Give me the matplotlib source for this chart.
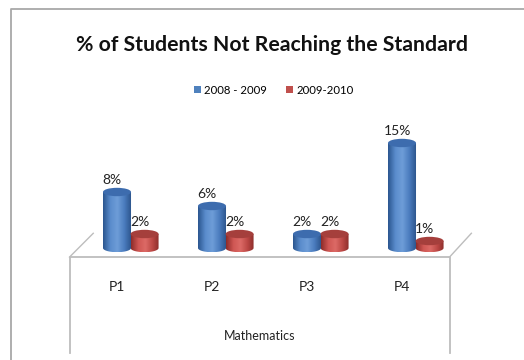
import numpy as np
import matplotlib
matplotlib.use("Agg")
import matplotlib.pyplot as plt
from matplotlib.path import Path
from matplotlib.patches import PathPatch, Ellipse, Patch
from matplotlib.colors import LinearSegmentedColormap

plt.rcParams["font.family"] = ["Lato", "DejaVu Sans"]

categories = ["P1", "P2", "P3", "P4"]
series_names = ["2008 - 2009", "2009-2010"]
vals_0809 = [8, 6, 2, 15]
vals_0910 = [2, 2, 2, 1]
value_labels_0809 = ["8%", "6%", "2%", "15%"]
value_labels_0910 = ["2%", "2%", "2%", "1%"]
x_title = "Mathematics"
title = "% of Students Not Reaching the Standard"

BLUE_SHADES = ["#2b5690", "#5a8ccc", "#6e9dd8", "#4a7bbd", "#2a5289"]
RED_SHADES = ["#8e2c2a", "#cf5653", "#dc6a66", "#bb4744", "#872a28"]
BLUE_TOP = "#3d6cae"
RED_TOP = "#a53f3c"
GRID_GRAY = "#bdbdbd"

BAR_W = 0.295      # cylinder width (category units)
RY = 0.6           # half height of the elliptical caps (value units)
OFFSETS = [0.0, 0.29]


def cylinder(ax, xc, h, shades, top_color):
    x0, x1 = xc - BAR_W / 2, xc + BAR_W / 2
    rx = BAR_W / 2
    t = np.linspace(0, np.pi, 40)
    arc_x = xc + rx * np.cos(t)
    arc_y = -RY * np.sin(t)
    verts = [(x0, 0), (x0, h), (x1, h)] + list(zip(arc_x, arc_y)) + [(x0, 0)]
    codes = [Path.MOVETO] + [Path.LINETO] * (len(verts) - 2) + [Path.CLOSEPOLY]
    body = PathPatch(Path(verts, codes), facecolor="none", edgecolor="none")
    ax.add_patch(body)
    cmap = LinearSegmentedColormap.from_list("cyl", shades)
    grad = np.linspace(0, 1, 64).reshape(1, -1)
    im = ax.imshow(grad, cmap=cmap, extent=(x0, x1, -RY, h), aspect="auto",
                   origin="lower", zorder=3, interpolation="bilinear")
    im.set_clip_path(body)
    ax.add_patch(Ellipse((xc, h), BAR_W, 2 * RY, facecolor=top_color,
                         edgecolor="none", zorder=4))


fig = plt.figure(figsize=(5.24, 3.6), dpi=100)
ax = fig.add_axes([0, 0, 1, 1])
ax.set_axis_off()

# axis limits chosen so one category step ~95 px and 1% ~7 px
xlim = (-117 / 95, (524 - 117) / 95)
ylim = ((248 - 360) / 7, 248 / 7)

# chart frame
ax.plot([-106 / 95, -106 / 95, xlim[1]], [ylim[0], 239 / 7, 239 / 7],
        color="#a8a8a8", lw=1.3, zorder=1, clip_on=False)

# 3-D floor
y_front, y_back = -1.3, 2.1
y_bot = (248 - 353) / 7
ax.plot([-0.5, -0.5, 3.5, 3.5], [y_bot, y_front, y_front, y_bot], color=GRID_GRAY, lw=1.3, zorder=1)
ax.plot([-0.5, -0.25], [y_front, y_back], color=GRID_GRAY, lw=1.0, zorder=1)
ax.plot([3.5, 3.73], [y_front, y_back], color=GRID_GRAY, lw=1.0, zorder=1)

for i in range(len(categories)):
    cylinder(ax, i + OFFSETS[0], vals_0809[i], BLUE_SHADES, BLUE_TOP)
    cylinder(ax, i + OFFSETS[1], vals_0910[i], RED_SHADES, RED_TOP)
    ax.annotate(value_labels_0809[i], (i + OFFSETS[0], vals_0809[i] + RY),
                xytext=(-3.5, 1.5), textcoords="offset points",
                ha="center", va="bottom", fontsize=10, color="#222222", zorder=5)
    ax.annotate(value_labels_0910[i], (i + OFFSETS[1], vals_0910[i] + RY),
                xytext=(-3.5, 1.5), textcoords="offset points",
                ha="center", va="bottom", fontsize=10, color="#222222", zorder=5)
    ax.text(i, -5.57, categories[i], ha="center", va="center", fontsize=10, color="#222222")

ax.text(1.5, -12.57, x_title, ha="center", va="center", fontsize=9, color="#222222")

ax.set_xlim(*xlim)
ax.set_ylim(*ylim)

fig.text(272 / 524, 1 - 45 / 360, title, ha="center", va="center",
         fontsize=15.3, fontweight="bold", color="#111111")

handles = [Patch(facecolor="#4f81bd"), Patch(facecolor="#c0504d")]
fig.legend(handles, series_names, loc="center", bbox_to_anchor=(274 / 524, 1 - 90 / 360),
           ncol=2, frameon=False, fontsize=8.2, handlelength=0.6, handleheight=0.6,
           handletextpad=0.3, columnspacing=1.7)

fig.savefig("out.png", dpi=100)
